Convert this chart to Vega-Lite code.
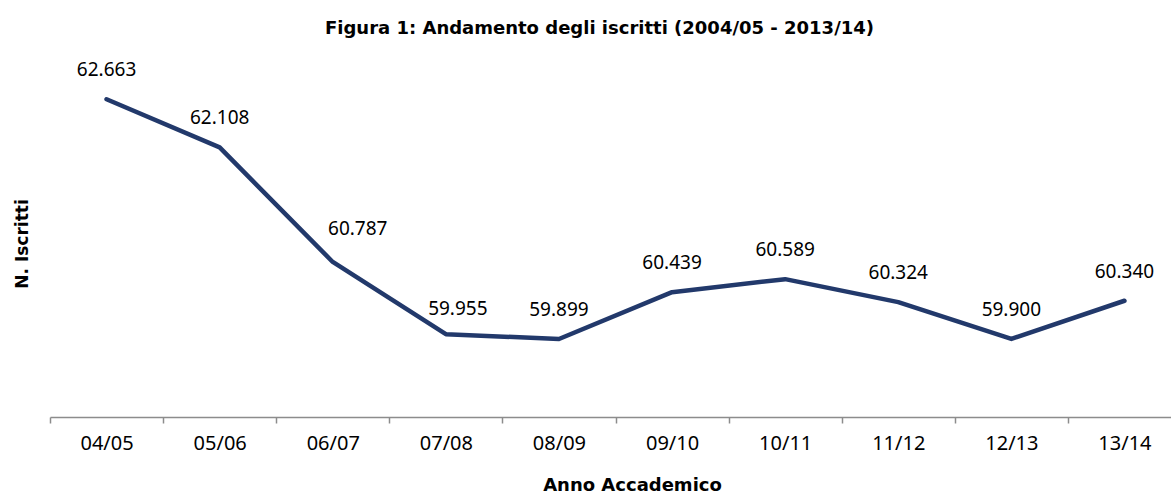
{
  "$schema": "https://vega.github.io/schema/vega-lite/v6.json",
  "autosize": "none",
  "width": 1121,
  "height": 347,
  "padding": {"left": 50, "top": 70, "right": 0, "bottom": 78},
  "background": "white",
  "title": {
    "text": "Figura 1: Andamento degli iscritti (2004/05 - 2013/14)",
    "font": "DejaVu Sans",
    "fontSize": 18,
    "fontWeight": "bold",
    "color": "#000000",
    "anchor": "middle",
    "frame": "group",
    "offset": 23,
    "dx": -11
  },
  "data": {
    "values": [
      {"anno": "04/05", "iscritti": 62663, "label": "62.663"},
      {"anno": "05/06", "iscritti": 62108, "label": "62.108"},
      {"anno": "06/07", "iscritti": 60787, "label": "60.787"},
      {"anno": "07/08", "iscritti": 59955, "label": "59.955"},
      {"anno": "08/09", "iscritti": 59899, "label": "59.899"},
      {"anno": "09/10", "iscritti": 60439, "label": "60.439"},
      {"anno": "10/11", "iscritti": 60589, "label": "60.589"},
      {"anno": "11/12", "iscritti": 60324, "label": "60.324"},
      {"anno": "12/13", "iscritti": 59900, "label": "59.900"},
      {"anno": "13/14", "iscritti": 60340, "label": "60.340"}
    ]
  },
  "encoding": {
    "x": {
      "field": "anno",
      "type": "ordinal",
      "sort": null,
      "bandPosition": 0.5,
      "scale": {"type": "band", "paddingInner": 0, "paddingOuter": 0, "range": [0, 1131]},
      "axis": {
        "title": "Anno Accademico",
        "titleFont": "DejaVu Sans",
        "titleFontSize": 18,
        "titleFontWeight": "bold",
        "titleColor": "#000000",
        "titleX": 582,
        "titlePadding": 23,
        "labelFont": "Noto Sans",
        "labelFontSize": 20,
        "labelColor": "#000000",
        "labelAngle": 0,
        "labelPadding": 10,
        "tickBand": "extent",
        "tickSize": 6,
        "tickColor": "#8c8c8c",
        "tickWidth": 1.5,
        "domainColor": "#8c8c8c",
        "domainWidth": 1.5,
        "grid": false
      }
    },
    "y": {
      "field": "iscritti",
      "type": "quantitative",
      "scale": {"domain": [59000, 63000], "zero": false, "nice": false},
      "axis": {
        "title": "N. Iscritti",
        "titleFont": "DejaVu Sans",
        "titleFontSize": 17,
        "titleFontWeight": "bold",
        "titleColor": "#000000",
        "titlePadding": 19,
        "labels": false,
        "ticks": false,
        "domain": false,
        "grid": false
      }
    }
  },
  "layer": [
    {
      "mark": {"type": "line", "color": "#22396b", "strokeWidth": 4.5, "strokeJoin": "round", "strokeCap": "round"}
    },
    {
      "transform": [{"filter": "datum.anno !== '06/07' && datum.anno !== '07/08'"}],
      "mark": {"type": "text", "font": "Noto Sans", "fontSize": 19, "color": "#000000", "baseline": "middle", "dy": -29},
      "encoding": {"text": {"field": "label"}}
    },
    {
      "transform": [{"filter": "datum.anno === '06/07'"}],
      "mark": {"type": "text", "font": "Noto Sans", "fontSize": 19, "color": "#000000", "baseline": "middle", "dx": 25, "dy": -33},
      "encoding": {"text": {"field": "label"}}
    },
    {
      "transform": [{"filter": "datum.anno === '07/08'"}],
      "mark": {"type": "text", "font": "Noto Sans", "fontSize": 19, "color": "#000000", "baseline": "middle", "dx": 12, "dy": -25},
      "encoding": {"text": {"field": "label"}}
    }
  ],
  "config": {"view": {"stroke": null}}
}
